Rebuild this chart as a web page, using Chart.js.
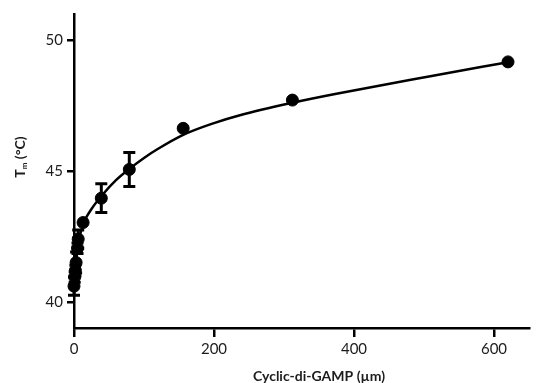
<!DOCTYPE html>
<html>
<head>
<meta charset="utf-8">
<script src="https://cdn.jsdelivr.net/npm/chart.js@4.4.0/dist/chart.umd.min.js"></script>
<style>
  html, body { margin: 0; padding: 0; background: #fff; }
  #wrap { width: 537px; height: 383px; }
</style>
</head>
<body>
<div id="wrap"><canvas id="tmChart" width="537" height="383"></canvas></div>
<script>
// measured points (concentration in µm, Tm in °C, SD)
const concentrations = [0, 1, 2, 3, 5, 6, 13, 39, 79, 156, 312, 620];
const tmValues = [40.6, 40.95, 41.2, 41.5, 42.05, 42.4, 43.03, 43.96, 45.06, 46.63, 47.71, 49.17];
const tmErrors = [0.35, 0.2, 0.2, 0.4, 0.2, 0.35, 0, 0.55, 0.65, 0, 0, 0];

// fitted curve
const fitX = [0, 2, 4, 6, 9, 13, 16, 25, 41, 60, 80, 100, 119, 156, 200, 237, 311, 373, 509, 620];
const fitY = [40.7, 41.3, 41.8, 42.2, 42.6, 42.95, 43.15, 43.55, 44.1, 44.65, 45.1, 45.5, 45.83, 46.38, 46.83, 47.13, 47.6, 47.94, 48.62, 49.16];

const xTicks = [0, 200, 400, 600];
const yTicks = [40, 45, 50];

const tickFont = { family: 'Lato', size: 15 };
const ink = '#1c1c1c';

const errorBars = {
  id: 'errorBars',
  afterDatasetsDraw(chart) {
    const { ctx, scales: { x, y } } = chart;
    ctx.save();
    ctx.strokeStyle = '#000';
    ctx.lineWidth = 3;
    concentrations.forEach((c, i) => {
      const e = tmErrors[i];
      if (!e) return;
      const px = x.getPixelForValue(c);
      const top = y.getPixelForValue(tmValues[i] + e);
      const bot = y.getPixelForValue(tmValues[i] - e);
      ctx.beginPath();
      ctx.moveTo(px, top); ctx.lineTo(px, bot);
      ctx.moveTo(px - 6, top); ctx.lineTo(px + 6, top);
      ctx.moveTo(px - 6, bot); ctx.lineTo(px + 6, bot);
      ctx.stroke();
    });
    ctx.restore();
  }
};

const axisTitles = {
  id: 'axisTitles',
  afterDraw(chart) {
    const { ctx } = chart;
    ctx.save();
    ctx.fillStyle = ink;
    ctx.textBaseline = 'middle';
    ctx.textAlign = 'center';
    ctx.font = 'bold 14px Lato';
    ctx.fillText('Cyclic-di-GAMP (µm)', 319, 376);

    // y title: T with subscript m
    ctx.translate(20, 157);
    ctx.rotate(-Math.PI / 2);
    ctx.textAlign = 'left';
    const big = 'bold 14px Lato', small = 'bold 8px Lato';
    ctx.font = big; const wT = ctx.measureText('T').width;
    ctx.font = small; const wM = ctx.measureText('m').width;
    ctx.font = big; const wR = ctx.measureText(' (°C)').width;
    let sx = -(wT + wM + wR) / 2;
    ctx.font = big; ctx.fillText('T', sx, 0); sx += wT;
    ctx.font = small; ctx.fillText('m', sx, 4); sx += wM;
    ctx.font = big; ctx.fillText(' (°C)', sx, 0);
    ctx.restore();
  }
};

new Chart(document.getElementById('tmChart'), {
  type: 'scatter',
  data: {
    datasets: [
      {
        label: 'Tm',
        data: concentrations.map((c, i) => ({ x: c, y: tmValues[i] })),
        backgroundColor: '#000',
        borderColor: '#000',
        pointRadius: 6,
        pointHoverRadius: 6,
        clip: false
      },
      {
        label: 'fit',
        data: fitX.map((c, i) => ({ x: c, y: fitY[i] })),
        showLine: true,
        borderColor: '#000',
        borderWidth: 2.5,
        pointRadius: 0,
        cubicInterpolationMode: 'monotone',
        clip: false
      }
    ]
  },
  options: {
    responsive: false,
    animation: false,
    layout: { padding: { top: 14, right: 8, left: 0, bottom: 0 } },
    plugins: {
      legend: { display: false },
      tooltip: { enabled: false }
    },
    scales: {
      x: {
        type: 'linear',
        min: 0,
        max: 650,
        afterBuildTicks: s => { s.ticks = xTicks.map(v => ({ value: v })); },
        afterFit: s => { s.height = 55; },
        border: { display: true, color: '#000', width: 2.5 },
        grid: { drawOnChartArea: false, drawTicks: true, tickLength: 9, color: '#000', lineWidth: 2.5 },
        ticks: { color: ink, font: tickFont, padding: 3, maxRotation: 0 }
      },
      y: {
        min: 39,
        max: 51,
        afterBuildTicks: s => { s.ticks = yTicks.map(v => ({ value: v })); },
        afterFit: s => { s.width = 74; },
        border: { display: true, color: '#000', width: 2.5 },
        grid: { drawOnChartArea: false, drawTicks: true, tickLength: 7, color: '#000', lineWidth: 2.5 },
        ticks: { color: ink, font: tickFont, padding: 4 }
      }
    }
  },
  plugins: [errorBars, axisTitles]
});
</script>
</body>
</html>
